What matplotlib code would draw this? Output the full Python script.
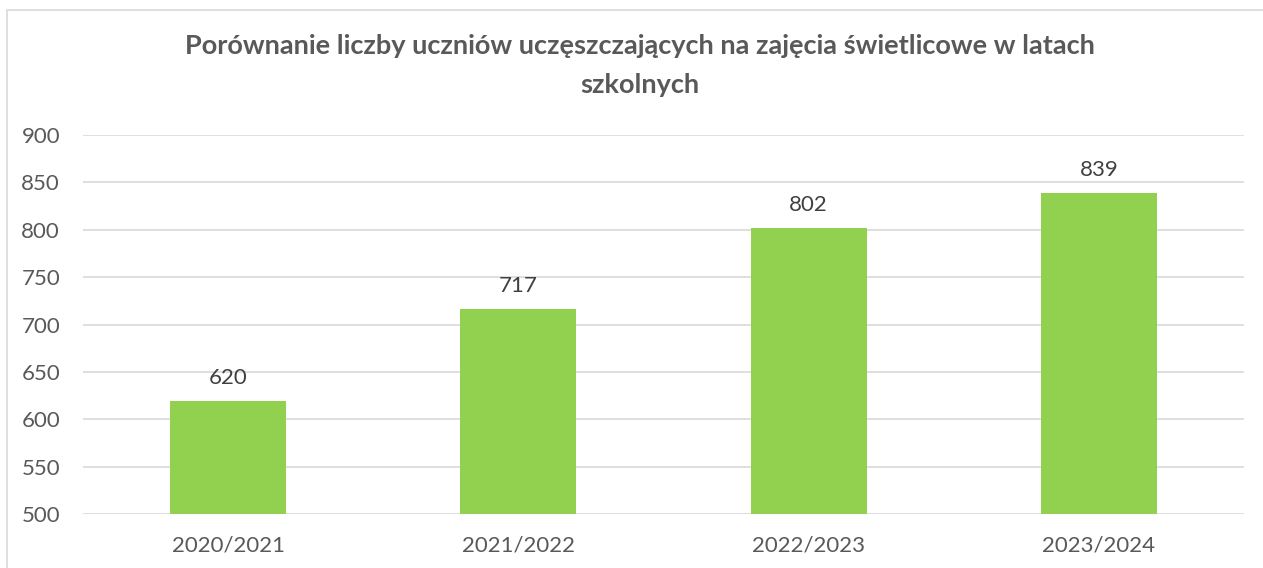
import matplotlib.pyplot as plt
from matplotlib.patches import Rectangle

# data
years = ["2020/2021", "2021/2022", "2022/2023", "2023/2024"]
students = [620, 717, 802, 839]
y_ticks = [500, 550, 600, 650, 700, 750, 800, 850, 900]

title = "Porównanie liczby uczniów uczęszczających na zajęcia świetlicowe w latach\nszkolnych"

plt.rcParams['font.family'] = ['Lato', 'DejaVu Sans']
txt_col = "#595959"
grid_col = "#D9D9D9"
bar_col = "#92D050"

fig = plt.figure(figsize=(12.63, 5.68), dpi=100)
ax = fig.add_axes([0.0657, 0.0945, 0.9192, 0.6678])

x = list(range(len(years)))
bars = ax.bar(x, students, width=0.4, color=bar_col, zorder=3)
for b, v in zip(bars, students):
    ax.annotate(str(v), (b.get_x() + b.get_width() / 2, v), xytext=(0, 16.5),
                textcoords="offset points", ha="center", va="center",
                fontsize=16, color="#404040")

ax.set_ylim(500, 900)
ax.set_xlim(-0.5, len(years) - 0.5)
ax.set_yticks(y_ticks)
ax.set_xticks(x)
ax.set_xticklabels(years)
ax.tick_params(axis="both", length=0, labelsize=16, labelcolor=txt_col)
ax.tick_params(axis="y", pad=16.5)
ax.tick_params(axis="x", pad=15)
ax.grid(axis="y", color=grid_col, linewidth=1.2, zorder=0)
for s in ax.spines.values():
    s.set_visible(False)

fig.text(0.507, 0.8847, title, ha="center", va="center", fontsize=19.5,
         fontweight="bold", color=txt_col, linespacing=1.75)

# outer chart border
fig.patches.append(Rectangle((7 / 1263, -0.1), 1.2, 1 - 10 / 568 + 0.1,
                             transform=fig.transFigure, fill=False,
                             edgecolor=grid_col, linewidth=1.2))

fig.savefig("out.png", dpi=100)
